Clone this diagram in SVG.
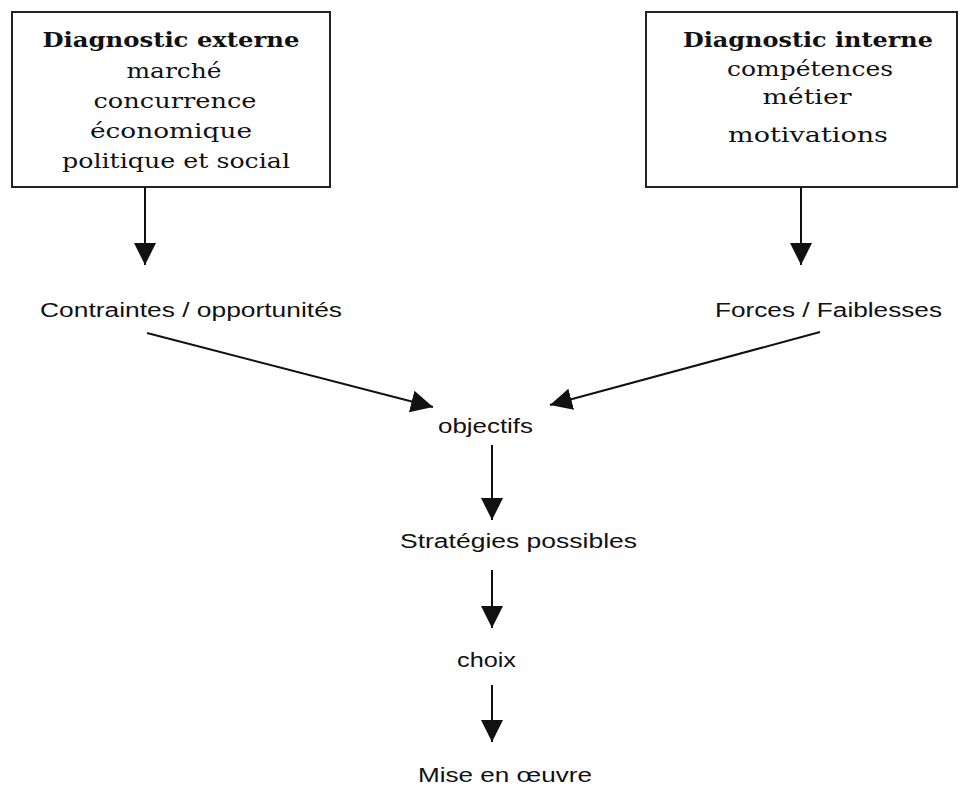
<svg xmlns="http://www.w3.org/2000/svg" width="961" height="785" viewBox="0 0 961 785">
<style>
.box{fill:#fff;stroke:#222;stroke-width:2}
.serif{font-family:"DejaVu Serif","Liberation Serif",serif;font-size:20px;fill:#111;text-anchor:middle}
.bold{font-weight:bold}
.sans{font-family:"Liberation Sans",Arial,sans-serif;font-size:20px;fill:#111}
.con{stroke:#111;stroke-width:2;fill:none;marker-end:url(#ah)}
</style>
<defs>
<marker id="ah" markerUnits="userSpaceOnUse" markerWidth="24" markerHeight="24" viewBox="0 0 24 24" refX="22" refY="12" orient="auto">
<path d="M0,1 L22,12 L0,23 Z" fill="#111"/>
</marker>
</defs>
<rect width="961" height="785" fill="#fff"/>
<g id="ext">
<rect class="box" x="12" y="12" width="318" height="175"/>
<text class="serif bold" x="171" y="47" textLength="257" lengthAdjust="spacingAndGlyphs">Diagnostic externe</text>
<text class="serif" x="174" y="78" textLength="95" lengthAdjust="spacingAndGlyphs">marché</text>
<text class="serif" x="175" y="108" textLength="163" lengthAdjust="spacingAndGlyphs">concurrence</text>
<text class="serif" x="171" y="138" textLength="162" lengthAdjust="spacingAndGlyphs">économique</text>
<text class="serif" x="176" y="168" textLength="228" lengthAdjust="spacingAndGlyphs">politique et social</text>
</g>
<g id="int">
<rect class="box" x="646" y="12" width="311" height="175"/>
<text class="serif bold" x="808" y="47" textLength="250" lengthAdjust="spacingAndGlyphs">Diagnostic interne</text>
<text class="serif" x="810" y="76" textLength="166" lengthAdjust="spacingAndGlyphs">compétences</text>
<text class="serif" x="807" y="104" textLength="89" lengthAdjust="spacingAndGlyphs">métier</text>
<text class="serif" x="808" y="142" textLength="160" lengthAdjust="spacingAndGlyphs">motivations</text>
</g>
<g id="contraintes"><text class="sans" x="40" y="317" textLength="302" lengthAdjust="spacingAndGlyphs">Contraintes / opportunités</text></g>
<g id="forces"><text class="sans" x="715" y="317" textLength="227" lengthAdjust="spacingAndGlyphs">Forces / Faiblesses</text></g>
<g id="objectifs"><text class="sans" x="438" y="433" textLength="95" lengthAdjust="spacingAndGlyphs">objectifs</text></g>
<g id="strategies"><text class="sans" x="400" y="548" textLength="237" lengthAdjust="spacingAndGlyphs">Stratégies possibles</text></g>
<g id="choix"><text class="sans" x="457" y="667" textLength="59" lengthAdjust="spacingAndGlyphs">choix</text></g>
<g id="mise"><text class="sans" x="418" y="782" textLength="174" lengthAdjust="spacingAndGlyphs">Mise en œuvre</text></g>
<g id="connectors">
<line class="con" x1="145" y1="187" x2="145" y2="265"/>
<line class="con" x1="801" y1="187" x2="801" y2="265"/>
<line class="con" x1="147" y1="333" x2="433" y2="407"/>
<line class="con" x1="820" y1="332" x2="550" y2="405"/>
<line class="con" x1="492" y1="445" x2="492" y2="520"/>
<line class="con" x1="492" y1="570" x2="492" y2="628"/>
<line class="con" x1="492" y1="685" x2="492" y2="742"/>
</g>
</svg>
